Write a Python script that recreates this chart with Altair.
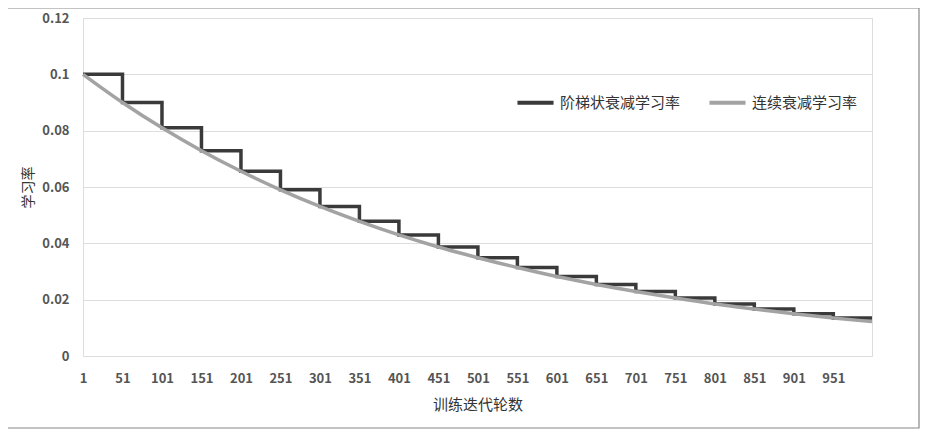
import altair as alt
import pandas as pd

# staircase decay (value holds from each x until the next)
step_x = [1, 51, 101, 151, 201, 251, 301, 351, 401, 451, 501, 551, 601, 651, 701, 751, 801, 851, 901, 951, 1000]
step_y = [0.1, 0.09, 0.081, 0.0729, 0.0656, 0.059, 0.0531, 0.0478, 0.043, 0.0387, 0.0349, 0.0314,
          0.0282, 0.0254, 0.0229, 0.0206, 0.0185, 0.0167, 0.015, 0.0135, 0.0135]
# continuous decay
cont_x = [1, 51, 101, 151, 201, 251, 301, 351, 401, 451, 501, 551, 601, 651, 701, 751, 801, 851, 901, 951, 1000]
cont_y = [0.1, 0.09, 0.081, 0.0729, 0.0656, 0.059, 0.0531, 0.0478, 0.043, 0.0387, 0.0349, 0.0314,
          0.0282, 0.0254, 0.0229, 0.0206, 0.0185, 0.0167, 0.015, 0.0135, 0.0122]

s1 = "阶梯状衰减学习率"
s2 = "连续衰减学习率"
x_ticks = list(range(1, 1000, 50))
y_ticks = [0, 0.02, 0.04, 0.06, 0.08, 0.1, 0.12]

df1 = pd.DataFrame({"x": step_x, "y": step_y, "s": s1})
df2 = pd.DataFrame({"x": cont_x, "y": cont_y, "s": s2})

FONT = "Noto Sans CJK SC"

xenc = alt.X("x:Q", scale=alt.Scale(domain=[1, 1000], nice=False, zero=False),
             axis=alt.Axis(values=x_ticks, title="训练迭代轮数", grid=False, ticks=False, domain=False,
                           labelFontSize=13, labelColor="#555555", labelFontWeight="bold",
                           labelPadding=16, titleFontSize=15, titleColor="#333333",
                           titleFontWeight="normal", titlePadding=12, labelFlush=False))
yenc = alt.Y("y:Q", scale=alt.Scale(domain=[0, 0.12], nice=False),
             axis=alt.Axis(values=y_ticks, title="学习率", grid=True, gridColor="#dddddd", gridWidth=1,
                           ticks=False, domain=False, labelFontSize=13, labelColor="#555555",
                           labelFontWeight="bold", labelPadding=14,
                           labelExpr="datum.value == 0 ? '0' : format(datum.value, '.2~f')",
                           titleFontSize=14, titleColor="#333333", titleFontWeight="normal",
                           titlePadding=6))
color = alt.Color("s:N", scale=alt.Scale(domain=[s1, s2], range=["#3a3a3a", "#a3a3a3"]),
                  legend=alt.Legend(title=None, orient="none", legendX=432, legendY=64,
                                    direction="horizontal", symbolType="stroke",
                                    symbolSize=1300, symbolStrokeWidth=4, labelFontSize=15,
                                    labelColor="#333333", columnPadding=20, labelOffset=4,
                                    labelFont=FONT))

step_line = alt.Chart(df1).mark_line(interpolate="step-after", strokeWidth=3.5).encode(
    x=xenc, y=yenc, color=color)
cont_line = alt.Chart(df2).mark_line(interpolate="monotone", strokeWidth=3.5).encode(
    x=xenc, y=yenc, color=color)

frame = alt.Chart(pd.DataFrame({"a": [0]})).mark_rect(
    fill=None, stroke="#888888", strokeWidth=1.2).encode(
    x=alt.value(-76), x2=alt.value(836), y=alt.value(-10), y2=alt.value(410))

chart = alt.layer(frame, step_line, cont_line).properties(
    width=789, height=338,
    autosize=alt.AutoSizeParams(type="none"),
    padding={"left": 75, "top": 10, "right": 54, "bottom": 76},
).configure_view(stroke=None).configure(font=FONT)

chart.save("out.html", embed_options={"renderer": "svg", "actions": False})
